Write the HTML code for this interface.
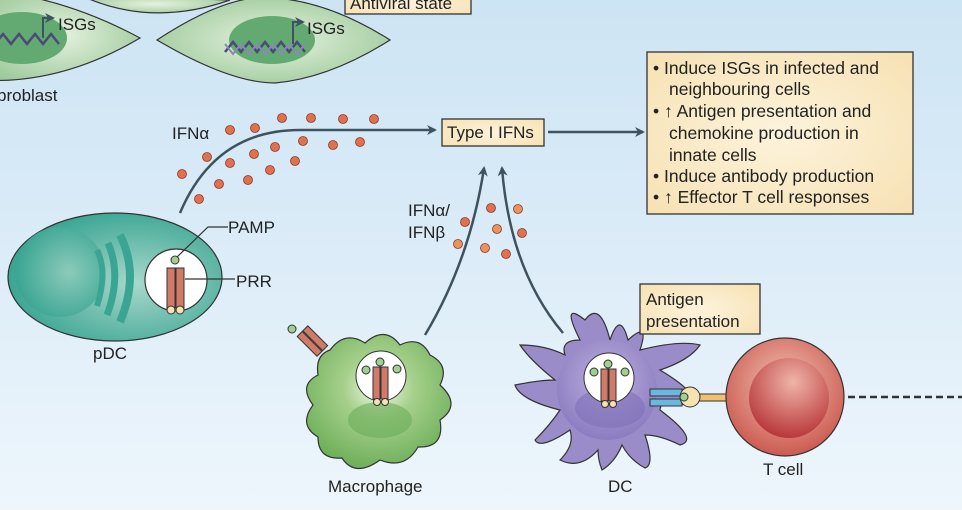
<!DOCTYPE html>
<html><head><meta charset="utf-8"><style>
html,body{margin:0;padding:0;width:962px;height:510px;overflow:hidden}
body{background:linear-gradient(#cde4f4,#dcecf8 50%,#eef6fc);font-family:"Liberation Sans",sans-serif}
svg{position:absolute;left:0;top:0}
text{font-family:"Liberation Sans",sans-serif;fill:#222}
</style></head><body>
<svg width="962" height="510" viewBox="0 0 962 510">
<defs>
<radialGradient id="gc" cx="0.5" cy="0.5" r="0.6"><stop offset="0" stop-color="#e6f2df"/><stop offset="1" stop-color="#9cc99a"/></radialGradient>
<radialGradient id="pdc" cx="0.6" cy="0.55" r="0.6"><stop offset="0" stop-color="#a8d8cc"/><stop offset="1" stop-color="#3aa592"/></radialGradient>
<radialGradient id="nuc" cx="0.6" cy="0.5" r="0.6"><stop offset="0" stop-color="#8ccabb"/><stop offset="1" stop-color="#3aa592"/></radialGradient>
<radialGradient id="mac" cx="0.5" cy="0.4" r="0.6"><stop offset="0" stop-color="#f2f8ea"/><stop offset="0.4" stop-color="#a6d08c"/><stop offset="1" stop-color="#6fb05a"/></radialGradient>
<radialGradient id="dc" cx="0.5" cy="0.4" r="0.6"><stop offset="0" stop-color="#eeeaf6"/><stop offset="0.4" stop-color="#a99cd2"/><stop offset="1" stop-color="#8a7cc0"/></radialGradient>
<radialGradient id="tc" cx="0.5" cy="0.4" r="0.6"><stop offset="0" stop-color="#f2c2b4"/><stop offset="1" stop-color="#cc5a50"/></radialGradient>
<radialGradient id="tc2" cx="0.55" cy="0.3" r="0.7"><stop offset="0" stop-color="#f0b4a8"/><stop offset="1" stop-color="#b8383a"/></radialGradient>
<radialGradient id="bx" cx="0.5" cy="0.5" r="0.7"><stop offset="0" stop-color="#fdf3dc"/><stop offset="1" stop-color="#f6e1b2"/></radialGradient>
<marker id="ah" markerWidth="10" markerHeight="10" refX="8" refY="5" orient="auto" markerUnits="userSpaceOnUse"><path d="M0,0 L10,5 L0,10 L3,5z" fill="#3e5260"/></marker>
</defs>
<!-- fibroblasts -->
<path d="M-20,-10 Q60,-5 140,38 Q60,85 -20,80z" fill="url(#gc)" stroke="#333" stroke-width="1.2"/>
<ellipse cx="22" cy="38" rx="45" ry="26" fill="#62aa72"/>
<path d="M80,-5 Q150,28 230,0 z" fill="url(#gc)" stroke="#333" stroke-width="1.2"/>
<path d="M157,40 Q230,-8 275,-2 Q330,2 390,40 Q330,78 275,83 Q230,83 157,40z" fill="url(#gc)" stroke="#333" stroke-width="1.2"/>
<ellipse cx="272" cy="40" rx="43" ry="24" fill="#62aa72"/>
<path d="M225,52 l8,-10 l8,10 l8,-10 l8,10 l8,-10 l8,10 l8,-10 l8,10 l8,-10 l8,10" fill="none" stroke="#4a4a7a" stroke-width="2.5"/>
<path d="M225,44 l8,10 l8,-10 l8,10 l8,-10 l8,10 l8,-10 l8,10 l8,-10 l8,10 l8,-10" fill="none" stroke="#8a8ab0" stroke-width="2"/>
<path d="M-5,44 l8,-10 l8,10 l8,-10 l8,10 l8,-10 l8,10 l8,-10 l8,10" fill="none" stroke="#4a4a7a" stroke-width="2.5"/>
<path d="M293,44 V22 H303" fill="none" stroke="#3e5260" stroke-width="2" marker-end="url(#ah)"/>
<path d="M43,38 V18 H53" fill="none" stroke="#3e5260" stroke-width="2" marker-end="url(#ah)"/>
<text x="307" y="34" font-size="17">ISGs</text>
<text x="58" y="30" font-size="17">ISGs</text>
<text x="-3" y="101" font-size="17">broblast</text>
<rect x="345" y="-6" width="126" height="20" fill="url(#bx)" stroke="#333" stroke-width="1.3"/>
<text x="350" y="9" font-size="17">Antiviral state</text>
<!-- IFN alpha curve -->
<path d="M180,213 Q215,130 300,130 L435,130" fill="none" stroke="#3e5260" stroke-width="2.5" marker-end="url(#ah)"/>
<text x="172" y="139" font-size="17">IFNα</text>
<g fill="#e0714e" stroke="#8a3a2a" stroke-width="0.8">
<circle cx="230" cy="130" r="4.5"/><circle cx="255" cy="128" r="4.5"/><circle cx="282" cy="118" r="4.5"/><circle cx="311" cy="118" r="4.5"/><circle cx="343" cy="119" r="4.5"/><circle cx="374" cy="119" r="4.5"/>
<circle cx="207" cy="157" r="4.5"/><circle cx="230" cy="163" r="4.5"/><circle cx="254" cy="154" r="4.5"/><circle cx="275" cy="147" r="4.5"/><circle cx="303" cy="141" r="4.5"/><circle cx="333" cy="145" r="4.5"/><circle cx="360" cy="142" r="4.5"/>
<circle cx="182" cy="174" r="4.5"/><circle cx="219" cy="184" r="4.5"/><circle cx="248" cy="180" r="4.5"/><circle cx="270" cy="170" r="4.5"/><circle cx="295" cy="161" r="4.5"/><circle cx="199" cy="199" r="4.5"/>
<circle cx="491" cy="208" r="4.5"/><circle cx="518" cy="209" r="4.5" fill="#e9935e"/><circle cx="465" cy="222" r="4.5"/><circle cx="497" cy="229" r="4.5" fill="#e9935e"/><circle cx="522" cy="233" r="4.5"/><circle cx="458" cy="244" r="4.5" fill="#e9935e"/><circle cx="485" cy="248" r="4.5" fill="#e9935e"/><circle cx="506" cy="254" r="4.5"/>
</g>
<rect x="442" y="119" width="102" height="27" fill="url(#bx)" stroke="#333" stroke-width="1.3"/>
<text x="447" y="138" font-size="17">Type I IFNs</text>
<line x1="548" y1="132" x2="643" y2="132" stroke="#3e5260" stroke-width="2.5" marker-end="url(#ah)"/>
<rect x="647" y="52" width="266" height="162" fill="url(#bx)" stroke="#333" stroke-width="1.3"/>
<g font-size="17.5">
<text x="653" y="74">• Induce ISGs in infected and</text>
<text x="669" y="95">neighbouring cells</text>
<text x="653" y="117">• ↑ Antigen presentation and</text>
<text x="669" y="139">chemokine production in</text>
<text x="669" y="161">innate cells</text>
<text x="653" y="182">• Induce antibody production</text>
<text x="653" y="203">• ↑ Effector T cell responses</text>
</g>
<!-- up arrows -->
<path d="M425,335 Q470,260 484,168" fill="none" stroke="#3e5260" stroke-width="2.5" marker-end="url(#ah)"/>
<path d="M563,333 Q510,270 502,168" fill="none" stroke="#3e5260" stroke-width="2.5" marker-end="url(#ah)"/>
<text x="408" y="216" font-size="17">IFNα/</text>
<text x="408" y="238" font-size="17">IFNβ</text>
<!-- pDC -->
<ellipse cx="115" cy="277" rx="107" ry="64" fill="url(#pdc)" stroke="#333" stroke-width="1.2"/>
<circle cx="60" cy="272" r="45" fill="url(#nuc)"/>
<path d="M97,250 Q108,272 97,306" fill="none" stroke="#3aa592" stroke-width="6"/>
<path d="M108,243 Q122,275 107,315" fill="none" stroke="#3aa592" stroke-width="7"/>
<path d="M120,235 Q140,275 120,322" fill="none" stroke="#3aa592" stroke-width="8"/>
<circle cx="176" cy="280" r="31" fill="#fff" stroke="#333" stroke-width="1.2"/>
<rect x="167" y="268" width="8" height="40" fill="#d07a68" stroke="#333"/><rect x="176" y="268" width="8" height="40" fill="#d07a68" stroke="#333"/>
<circle cx="171" cy="310" r="4" fill="#f6e1b2" stroke="#333"/><circle cx="180" cy="310" r="4" fill="#f6e1b2" stroke="#333"/>
<circle cx="175" cy="260" r="4" fill="#9fd090" stroke="#333"/>
<path d="M177,257 L208,227 H228" fill="none" stroke="#333" stroke-width="1.2"/>
<path d="M185,279 H235" fill="none" stroke="#333" stroke-width="1.2"/>
<text x="228" y="233" font-size="17">PAMP</text>
<text x="236" y="287" font-size="17">PRR</text>
<text x="93" y="359" font-size="17">pDC</text>
<!-- macrophage -->
<path d="M330,350 Q345,330 365,343 Q385,325 400,345 Q420,335 430,355 Q450,365 440,385 Q462,405 440,420 Q445,448 418,447 Q405,470 380,460 Q355,478 342,458 Q318,460 318,437 Q298,425 313,405 Q298,385 318,375 Q315,355 330,350z" fill="url(#mac)" stroke="#333" stroke-width="1.2"/>
<ellipse cx="380" cy="420" rx="32" ry="18" fill="#6aae58" opacity="0.6"/>
<circle cx="381" cy="376" r="25" fill="#fff" stroke="#333"/>
<rect x="373" y="367" width="7" height="32" fill="#d07a68" stroke="#333"/><rect x="381" y="367" width="7" height="32" fill="#d07a68" stroke="#333"/>
<circle cx="380" cy="362" r="4" fill="#9fd090" stroke="#333"/><circle cx="366" cy="370" r="4" fill="#9fd090" stroke="#333"/><circle cx="397" cy="369" r="4" fill="#9fd090" stroke="#333"/>
<circle cx="377" cy="402" r="3.5" fill="#f6e1b2" stroke="#333"/><circle cx="385" cy="402" r="3.5" fill="#f6e1b2" stroke="#333"/>
<g transform="translate(305,340) rotate(-45)"><rect x="-3" y="-8" width="7" height="28" fill="#d07a68" stroke="#333"/><rect x="5" y="-8" width="7" height="28" fill="#d07a68" stroke="#333"/></g>
<circle cx="292" cy="329" r="4" fill="#9fd090" stroke="#333"/>
<text x="328" y="492" font-size="17">Macrophage</text>
<!-- DC -->
<g fill="#9a8cc8" stroke="#333" stroke-width="1.2">
<path d="M580,340 Q560,300 585,320 Q600,300 610,340 Q620,310 628,340 Q650,320 640,350 Q680,340 700,345 Q690,360 660,370 Q710,400 680,405 Q660,400 660,410 Q700,440 680,445 Q660,435 645,435 Q655,465 645,468 Q630,460 622,445 Q615,462 602,470 Q598,460 598,450 Q580,470 560,460 Q575,445 570,430 Q540,450 535,440 Q550,425 560,410 Q520,400 515,385 Q540,380 555,380 Q530,360 520,345 Q545,345 565,355 Q560,340 580,340z"/>
</g>
<circle cx="607" cy="390" r="50" fill="url(#dc)"/>
<ellipse cx="610" cy="408" rx="35" ry="20" fill="#7e70b8" opacity="0.6"/>
<circle cx="609" cy="378" r="25" fill="#fff" stroke="#333"/>
<rect x="601" y="369" width="7" height="32" fill="#d07a68" stroke="#333"/><rect x="609" y="369" width="7" height="32" fill="#d07a68" stroke="#333"/>
<circle cx="608" cy="364" r="4" fill="#9fd090" stroke="#333"/><circle cx="594" cy="372" r="4" fill="#9fd090" stroke="#333"/><circle cx="625" cy="372" r="4" fill="#9fd090" stroke="#333"/>
<circle cx="605" cy="404" r="3.5" fill="#f6e1b2" stroke="#333"/><circle cx="613" cy="404" r="3.5" fill="#f6e1b2" stroke="#333"/>
<rect x="650" y="389" width="32" height="7" fill="#6ab8e0" stroke="#333"/><rect x="650" y="399" width="32" height="7" fill="#6ab8e0" stroke="#333"/>
<rect x="690" y="394" width="40" height="7" fill="#f0c070" stroke="#333"/>
<ellipse cx="690" cy="397" rx="10" ry="10" fill="#f6e1b2" stroke="#333"/>
<circle cx="684" cy="397" r="4" fill="#9fd090" stroke="#333"/>
<text x="608" y="492" font-size="17">DC</text>
<rect x="640" y="284" width="120" height="50" fill="url(#bx)" stroke="#333" stroke-width="1.3"/>
<text x="646" y="305" font-size="17">Antigen</text>
<text x="646" y="327" font-size="17">presentation</text>
<!-- T cell -->
<circle cx="785" cy="397" r="59" fill="url(#tc)" stroke="#333" stroke-width="1.2"/>
<circle cx="789" cy="398" r="40" fill="url(#tc2)"/>
<line x1="848" y1="397" x2="962" y2="397" stroke="#333" stroke-width="2.5" stroke-dasharray="7,4"/>
<text x="763" y="475" font-size="17">T cell</text>
</svg>
</body></html>
